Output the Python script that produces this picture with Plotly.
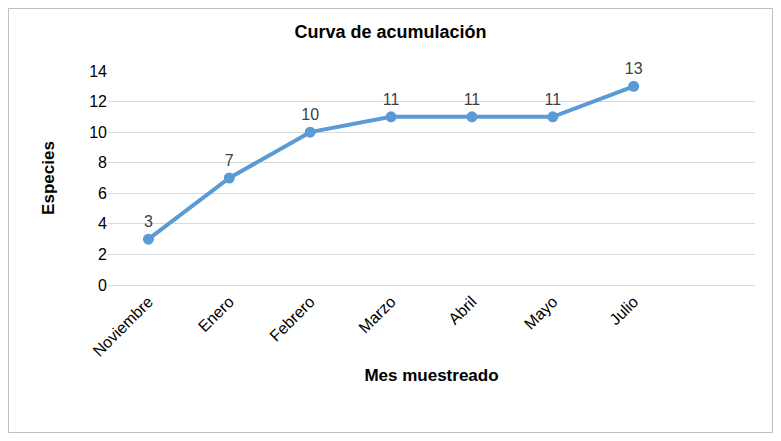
import plotly.graph_objects as go

months = ["Noviembre", "Enero", "Febrero", "Marzo", "Abril", "Mayo", "Julio"]
species = [3, 7, 10, 11, 11, 11, 13]
y_ticks = [0, 2, 4, 6, 8, 10, 12, 14]

xs = list(range(len(months)))
fig = go.Figure(go.Scatter(
    x=xs, y=species, mode="lines+markers+text",
    text=[str(v) for v in species], textposition="top center",
    textfont=dict(size=16, color="#404040"),
    line=dict(color="#5B9BD5", width=4), marker=dict(size=11, color="#5B9BD5"),
    cliponaxis=False))

W, H = 765, 425
L, R, T, B = 100, 18, 63, 148
pw, ph = W - L - R, H - T - B
fig.update_layout(
    width=W, height=H, margin=dict(l=L, r=R, t=T, b=B),
    paper_bgcolor="white", plot_bgcolor="white",
    font=dict(family="Liberation Sans, Arial", color="#000"),
    title=dict(text="<b>Curva de acumulación</b>", x=0.5, xanchor="center", y=1 - 24 / H, yanchor="middle",
               font=dict(size=18, color="#000")),
    showlegend=False,
    xaxis=dict(range=[-0.5, 7.5], tickvals=xs, ticktext=months, tickangle=-45,
               tickfont=dict(size=16, color="#000"), showgrid=False, zeroline=False,
               showline=True, linecolor="#d9d9d9",
               title=dict(text="<b>Mes muestreado</b>", font=dict(size=17), standoff=10)),
    yaxis=dict(range=[0, 14], tickvals=y_ticks, tickfont=dict(size=16, color="#000"),
               gridcolor="#d9d9d9", zeroline=False, showline=False, ticks="", ticklen=0,
               title=dict(text="<b>Especies</b>", font=dict(size=17), standoff=30)),
    shapes=[dict(type="rect", xref="paper", yref="paper",
                 x0=(0.5 - L) / pw, x1=(W - 0.5 - L) / pw,
                 y0=(0.5 - B) / ph, y1=(H - 0.5 - B) / ph,
                 line=dict(color="#bfbfbf", width=1))],
)
fig.write_html("out.html")
